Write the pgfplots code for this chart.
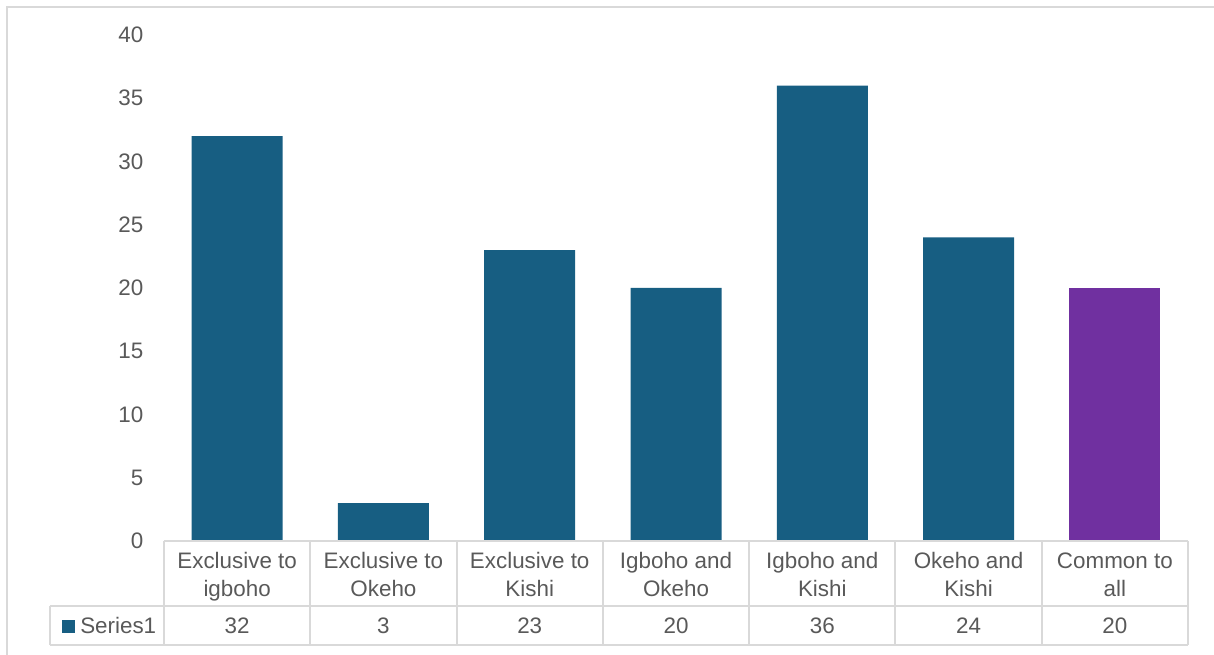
\documentclass[border=0pt]{standalone}
\usepackage{pgfplots}
\pgfplotsset{compat=1.18}
\usepackage{pgfplotstable}
\usepackage{fontspec}
\setmainfont{Liberation Sans}
\definecolor{barblue}{HTML}{175E82}
\definecolor{barpurple}{HTML}{7030A0}
\definecolor{txt}{HTML}{595959}
\definecolor{gridc}{HTML}{D9D9D9}

\pgfplotstableread{
x y
0.5 32
1.5 3
2.5 23
3.5 20
4.5 36
5.5 24
}\bluedata
\pgfplotstableread{
x y
6.5 20
}\purpledata

\begin{document}
\begin{tikzpicture}[x=0.75pt,y=0.75pt]
\useasboundingbox (-164,-114) rectangle (1050,541);
% outer chart frame
\draw[gridc, line width=1.5pt] (-157,-130) -- (-157,534) -- (1080,534);
\begin{axis}[
  at={(0,0)}, anchor=south west,
  scale only axis, width=768pt, height=379.5pt,
  xmin=0, xmax=7, ymin=0, ymax=40,
  ytick={0,5,...,40}, xtick=\empty,
  axis line style={draw=none},
  major tick length=0pt,
  /pgf/number format/assume math mode=true,
  yticklabel style={font=\fontsize{16.8}{19}\selectfont, text=txt, anchor=east, xshift=-12pt},
  ybar, bar width=68.25pt,
  clip=false,
]
\addplot[fill=barblue, draw=none, bar shift=0pt] table[x=x,y=y] {\bluedata};
\addplot[fill=barpurple, draw=none, bar shift=0pt] table[x=x,y=y] {\purpledata};
\end{axis}
% data table
\begin{scope}[gridc, line width=1.5pt]
\draw (0,0) -- (1024,0);
\draw (-114,-65) -- (1024,-65);
\draw (-114,-104) -- (1024,-104);
\draw (-114,-65) -- (-114,-104);
\foreach \k in {0,...,7} { \draw ({146.2857*\k},0) -- ({146.2857*\k},-104); }
\end{scope}
\begin{scope}[txt, font=\fontsize{16.8}{21}\selectfont]
\foreach \lab [count=\i from 0] in {Exclusive to, Exclusive to, Exclusive to, Igboho and, Igboho and, Okeho and, Common to} {
  \node[anchor=base, inner sep=0pt] at ({146.2857*(\i+0.5)},-27.5) {\lab};
}
\foreach \lab [count=\i from 0] in {igboho, Okeho, Kishi, Okeho, Kishi, Kishi, all} {
  \node[anchor=base, inner sep=0pt] at ({146.2857*(\i+0.5)},-55.5) {\lab};
}
\foreach \v [count=\i from 0] in {32,3,23,20,36,24,20} {
  \node[anchor=base, inner sep=0pt] at ({146.2857*(\i+0.5)},-93) {\v};
}
\fill[barblue] (-102,-92) rectangle (-89,-79);
\node[anchor=base west, inner sep=0pt] at (-84,-93) {Series1};
\end{scope}
\end{tikzpicture}
\end{document}
